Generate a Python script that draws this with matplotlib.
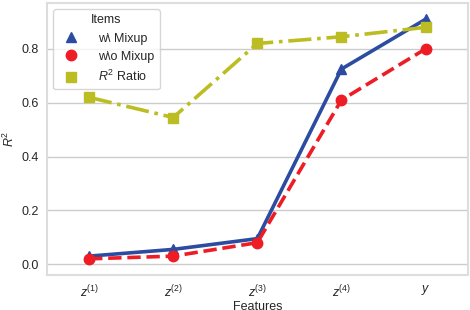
import numpy as np
import matplotlib.pyplot as plt
import seaborn as sns

sns.set_theme(style="whitegrid")
plt.rcParams['font.family'] = ['Liberation Sans', 'DejaVu Sans']
plt.rcParams['mathtext.fontset'] = 'custom'
plt.rcParams['mathtext.rm'] = 'Liberation Sans'
plt.rcParams['mathtext.it'] = 'Liberation Sans:italic'

features = [r'$z^{(1)}$', r'$z^{(2)}$', r'$z^{(3)}$', r'$z^{(4)}$', r'$y$']
with_mixup = [0.03, 0.055, 0.095, 0.725, 0.91]
without_mixup = [0.02, 0.03, 0.08, 0.61, 0.80]
r2_ratio = [0.62, 0.545, 0.82, 0.845, 0.88]

x = np.arange(len(features))

fig, ax = plt.subplots(figsize=(4.7, 3.1), dpi=100)

ax.plot(x, with_mixup, color='#2b4ca0', linestyle='-', linewidth=2.6,
        marker='^', markersize=7.5, label=r'w\ Mixup')
ax.plot(x, without_mixup, color='#ee1d25', linestyle='--', linewidth=2.6,
        marker='o', markersize=7.5, label=r'w\o Mixup')
ax.plot(x, r2_ratio, color='#bcbd22', linestyle='-.', linewidth=2.6,
        marker='s', markersize=7.5, label=r'$R^2$ Ratio')

ax.set_xticks(x)
ax.set_xticklabels(features)
ax.set_xlim(-0.5, 4.5)
ax.set_ylim(-0.04, 0.97)
ax.set_yticks([0.0, 0.2, 0.4, 0.6, 0.8])
ax.grid(axis='x', visible=False)
ax.set_xlabel('Features', fontsize=9, labelpad=1)
ax.set_ylabel(r'$R^2$', fontsize=9, labelpad=3)
ax.tick_params(labelsize=9, length=0, pad=6)
for sp in ax.spines.values():
    sp.set_linewidth(1.5)
    sp.set_color('#dddddd')

leg = ax.legend(title='Items', loc='upper left', fontsize=9, title_fontsize=9,
                frameon=True, handletextpad=1.2, borderaxespad=0.5)
for line in leg.get_lines():
    line.set_linestyle('')

fig.subplots_adjust(left=0.1, right=0.995, top=0.99, bottom=0.113)
plt.savefig('out.png', dpi=100)
